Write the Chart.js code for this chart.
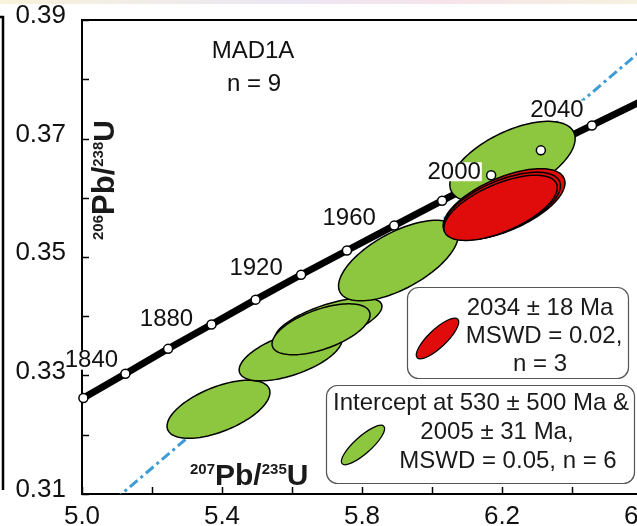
<!DOCTYPE html>
<html>
<head>
<meta charset="utf-8">
<script src="https://cdn.jsdelivr.net/npm/chart.js@4.4.0/dist/chart.umd.min.js"></script>
<style>
  html, body { margin: 0; padding: 0; background: #fff; overflow: hidden; }
  #wrap { position: relative; width: 637px; height: 526px; overflow: hidden; }
  canvas { display: block; }
</style>
</head>
<body>
<div id="wrap"><canvas id="myChart" width="700" height="526"></canvas></div>
<script>
// concordia markers (every 20 Ma)
const concAges = [1820, 1840, 1860, 1880, 1900, 1920, 1940, 1960, 1980, 2000, 2020, 2040, 2060];
const concX = [5.004, 5.124, 5.246, 5.370, 5.496, 5.626, 5.757, 5.892, 6.029, 6.169, 6.311, 6.457, 6.605];
const concY = [0.3262, 0.3303, 0.3345, 0.3386, 0.3428, 0.3470, 0.3511, 0.3553, 0.3595, 0.3638, 0.3680, 0.3722, 0.3765];
const labelledAges = [1840, 1880, 1920, 1960, 2000, 2040];

// discordia (530 Ma - 2005 Ma)
const discX = [5.0, 6.7];
const discY = [0.3043, 0.3900];

// analyses: centre, half-widths, correlation
const greenX = [5.390, 5.596, 5.704, 5.683, 5.904, 6.230];
const greenY = [0.3243, 0.3335, 0.3390, 0.3378, 0.3494, 0.3661];
const greenSx = [0.147, 0.147, 0.153, 0.140, 0.171, 0.179];
const greenSy = [0.0049, 0.0044, 0.0041, 0.0043, 0.0068, 0.0068];
const greenRho = [0.58, 0.58, 0.65, 0.57, 0.63, 0.57];

const redX = [6.206, 6.200, 6.196];
const redY = [0.3589, 0.3586, 0.3583];
const redSx = [0.174, 0.167, 0.162];
const redSy = [0.0060, 0.0057, 0.0055];
const redRho = [0.60, 0.60, 0.62];

// axes
const xTicks = [5.0, 5.2, 5.4, 5.6, 5.8, 6.0, 6.2, 6.4, 6.6];
const xTickLabels = ['5.0', '', '5.4', '', '5.8', '', '6.2', '', '6.6'];
const yTicks = [0.31, 0.32, 0.33, 0.34, 0.35, 0.36, 0.37, 0.38, 0.39];
const yTickLabels = ['0.31', '', '0.33', '', '0.35', '', '0.37', '', '0.39'];

const FONT = '"Liberation Sans", Arial, sans-serif';
const GREEN = '#8dc63f';
const RED = '#e00b0b';

function pts(xs, ys) {
  return xs.map((x, i) => ({ x: x, y: ys[i] }));
}

function drawEllipse(ctx, xs, ys, cx, cy, sx, sy, rho, fill) {
  const k = Math.sqrt(1 - rho * rho);
  ctx.beginPath();
  for (let i = 0; i <= 120; i++) {
    const t = i / 120 * Math.PI * 2;
    const px = xs.getPixelForValue(cx + sx * Math.cos(t));
    const py = ys.getPixelForValue(cy + sy * (rho * Math.cos(t) + k * Math.sin(t)));
    if (i === 0) ctx.moveTo(px, py); else ctx.lineTo(px, py);
  }
  ctx.closePath();
  ctx.fillStyle = fill;
  ctx.fill();
  ctx.lineWidth = 1.5;
  ctx.strokeStyle = '#000';
  ctx.stroke();
}

// draws text made of [text, size, raise] pieces, left to right
function richText(ctx, parts, x, y) {
  let cx = x;
  parts.forEach(p => {
    ctx.font = 'bold ' + p[1] + 'px ' + FONT;
    ctx.fillText(p[0], cx, y - p[2]);
    cx += ctx.measureText(p[0]).width;
  });
}
function richWidth(ctx, parts) {
  let w = 0;
  parts.forEach(p => { ctx.font = 'bold ' + p[1] + 'px ' + FONT; w += ctx.measureText(p[0]).width; });
  return w;
}

const ellipsePlugin = {
  id: 'ellipses',
  afterDatasetDraw(chart, args) {
    if (args.index !== 1) return;
    const ctx = chart.ctx, a = chart.chartArea;
    const xs = chart.scales.x, ys = chart.scales.y;
    ctx.save();
    ctx.beginPath();
    ctx.rect(a.left, a.top, a.right - a.left, a.bottom - a.top);
    ctx.clip();
    greenX.forEach((v, i) => drawEllipse(ctx, xs, ys, v, greenY[i], greenSx[i], greenSy[i], greenRho[i], GREEN));
    redX.forEach((v, i) => drawEllipse(ctx, xs, ys, v, redY[i], redSx[i], redSy[i], redRho[i], RED));
    ctx.restore();
  }
};

const decorPlugin = {
  id: 'decor',
  afterDatasetsDraw(chart) {
    const ctx = chart.ctx, a = chart.chartArea;
    const xs = chart.scales.x, ys = chart.scales.y;
    ctx.save();

    // frame top + inward ticks
    ctx.strokeStyle = '#000';
    ctx.lineWidth = 2;
    ctx.beginPath();
    ctx.moveTo(a.left - 1, a.top);
    ctx.lineTo(chart.width, a.top);
    ctx.stroke();
    ctx.lineWidth = 1.5;
    xTicks.forEach(v => {
      const p = Math.round(xs.getPixelForValue(v)) + 0.5;
      ctx.beginPath(); ctx.moveTo(p, a.bottom); ctx.lineTo(p, a.bottom - 7); ctx.stroke();
    });
    yTicks.forEach(v => {
      const p = Math.round(ys.getPixelForValue(v)) + 0.5;
      ctx.beginPath(); ctx.moveTo(a.left, p); ctx.lineTo(a.left + 7, p); ctx.stroke();
    });

    // neighbouring panel edge and cropped strip at top
    ctx.lineWidth = 2.5;
    ctx.beginPath(); ctx.moveTo(3, 16); ctx.lineTo(3, 490); ctx.stroke();
    ctx.beginPath(); ctx.moveTo(0, 17); ctx.lineTo(4, 17); ctx.stroke();
    const g = ctx.createLinearGradient(0, 0, 637, 0);
    g.addColorStop(0, '#f7f3dc'); g.addColorStop(0.45, '#ece6f3'); g.addColorStop(0.7, '#f6e4ea'); g.addColorStop(1, '#f5f1df');
    ctx.fillStyle = g;
    ctx.fillRect(0, 0, chart.width, 4);

    // age labels along concordia
    const offs = { 1840: [-34, -14], 1880: [-45, -6], 1920: [-45, -7], 1960: [-45, -8], 2000: [-37, -4], 2040: [-35, -16] };
    ctx.font = '24px ' + FONT;
    ctx.textAlign = 'center';
    ctx.textBaseline = 'middle';
    labelledAges.forEach(age => {
      const i = concAges.indexOf(age);
      const px = xs.getPixelForValue(concX[i]) + offs[age][0];
      const py = ys.getPixelForValue(concY[i]) + offs[age][1];
      const w = ctx.measureText(String(age)).width;
      ctx.fillStyle = '#fff';
      ctx.fillRect(px - w / 2 - 1, py - 9, w + 2, 19);
      ctx.fillStyle = '#111';
      ctx.fillText(String(age), px, py + 1);
    });

    // sample name
    ctx.font = '24px ' + FONT;
    ctx.fillText('MAD1A', 253, 51);
    ctx.fillText('n = 9', 254, 84);

    // legend boxes
    ctx.strokeStyle = '#555';
    ctx.lineWidth = 1.2;
    ctx.fillStyle = '#fff';
    ctx.beginPath(); ctx.roundRect(407.5, 287.5, 221, 91, 11); ctx.fill(); ctx.stroke();
    ctx.beginPath(); ctx.roundRect(326.5, 385.5, 308, 98, 11); ctx.fill(); ctx.stroke();

    ctx.lineWidth = 1.3;
    ctx.strokeStyle = '#000';
    ctx.beginPath(); ctx.ellipse(437.5, 338.5, 28, 9, -0.76, 0, Math.PI * 2);
    ctx.fillStyle = RED; ctx.fill(); ctx.stroke();
    ctx.beginPath(); ctx.ellipse(363, 445, 28, 8.5, -0.73, 0, Math.PI * 2);
    ctx.fillStyle = GREEN; ctx.fill(); ctx.stroke();

    ctx.fillStyle = '#1a1a1a';
    ctx.font = '24px ' + FONT;
    ctx.fillText('2034 \u00b1 18 Ma', 540, 308);
    ctx.fillText('MSWD = 0.02,', 544, 336);
    ctx.fillText('n = 3', 540, 364);
    ctx.fillText('Intercept at 530 \u00b1 500 Ma &', 481, 403);
    ctx.fillText('2005 \u00b1 31 Ma,', 497, 432);
    ctx.fillText('MSWD = 0.05, n = 6', 508, 461);

    // axis titles
    ctx.fillStyle = '#1a1a1a';
    ctx.textAlign = 'left';
    ctx.textBaseline = 'alphabetic';
    const xt = [['207', 15, 11], ['Pb/', 30, 0], ['235', 15, 11], ['U', 30, 0]];
    richText(ctx, xt, 190, 485);
    const yt = [['206', 15, 11], ['Pb/', 31, 0], ['238', 15, 11], ['U', 30, 0]];
    ctx.translate(114, 180);
    ctx.rotate(-Math.PI / 2);
    richText(ctx, yt, -richWidth(ctx, yt) / 2, 0);
    ctx.restore();
  }
};

new Chart(document.getElementById('myChart'), {
  type: 'scatter',
  data: {
    datasets: [
      {
        label: 'markers',
        data: pts(concX, concY),
        showLine: false,
        pointRadius: 4.5,
        pointBackgroundColor: '#fff',
        pointBorderColor: '#000',
        pointBorderWidth: 1.5,
        clip: false,
        order: 0
      },
      {
        label: 'concordia',
        data: pts(concX, concY),
        showLine: true,
        borderColor: '#000',
        borderWidth: 7,
        pointRadius: 0,
        tension: 0,
        order: 2
      },
      {
        label: 'discordia',
        data: pts(discX, discY),
        showLine: true,
        borderColor: '#3d9bd6',
        borderWidth: 3,
        borderDash: [10, 4, 3, 4],
        pointRadius: 0,
        order: 3
      }
    ]
  },
  options: {
    responsive: false,
    animation: false,
    layout: { padding: { top: 20, right: 58, left: 0, bottom: 0 } },
    plugins: { legend: { display: false }, tooltip: { enabled: false } },
    scales: {
      x: {
        type: 'linear',
        min: 5.0,
        max: 6.6,
        afterBuildTicks: s => { s.ticks = xTicks.map(v => ({ value: v })); },
        afterFit: s => { s.height = 32; s.paddingLeft = 0; s.paddingRight = 0; },
        grid: { display: false, drawTicks: false },
        border: { display: true, color: '#000', width: 2 },
        ticks: {
          callback: (v, i) => xTickLabels[i],
          autoSkip: false,
          maxRotation: 0,
          padding: 7,
          color: '#111',
          font: { family: FONT, size: 26 }
        }
      },
      y: {
        type: 'linear',
        min: 0.31,
        max: 0.39,
        afterBuildTicks: s => { s.ticks = yTicks.map(v => ({ value: v })); },
        afterFit: s => { s.width = 82; s.paddingTop = 0; s.paddingBottom = 0; },
        grid: { display: false, drawTicks: false },
        border: { display: true, color: '#000', width: 2 },
        ticks: {
          callback: (v, i) => yTickLabels[i],
          autoSkip: false,
          padding: 16,
          labelOffset: -4,
          color: '#111',
          font: { family: FONT, size: 26 }
        }
      }
    }
  },
  plugins: [ellipsePlugin, decorPlugin]
});
</script>
</body>
</html>
